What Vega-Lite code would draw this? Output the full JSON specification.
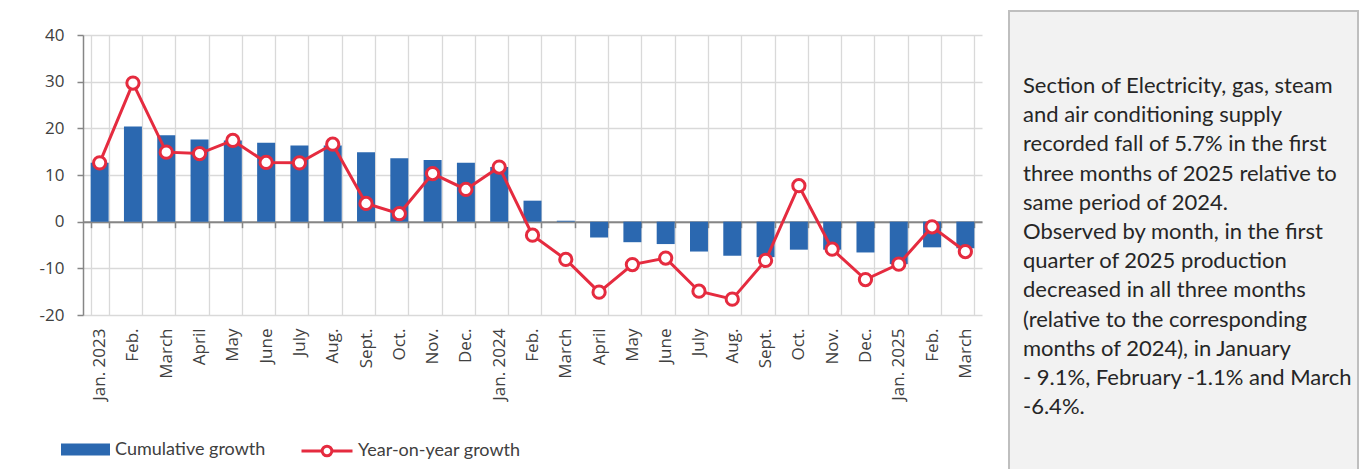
{
  "$schema": "https://vega.github.io/schema/vega-lite/v6.json",
  "padding": {"left": 39, "top": 10, "right": 0, "bottom": 0},
  "spacing": 26,
  "background": "white",
  "config": {"view": {"stroke": null}},
  "hconcat": [
    {
      "spacing": 3,
      "vconcat": [
        {
          "width": 899,
          "height": 12,
          "data": {"values": [{"t": ""}]},
          "mark": {"type": "text", "baseline": "middle"},
          "encoding": {"text": {"field": "t"}}
        },
        {
          "width": 899,
          "height": 280,
          "data": {"values": [
            {"month": "Jan. 2023", "cum": 12.6, "yoy": 12.6},
            {"month": "Feb. 2023", "cum": 20.4, "yoy": 29.7},
            {"month": "March 2023", "cum": 18.5, "yoy": 14.9},
            {"month": "April 2023", "cum": 17.6, "yoy": 14.6},
            {"month": "May 2023", "cum": 17.4, "yoy": 17.4},
            {"month": "June 2023", "cum": 16.9, "yoy": 12.7},
            {"month": "July 2023", "cum": 16.3, "yoy": 12.6},
            {"month": "Aug. 2023", "cum": 16.3, "yoy": 16.6},
            {"month": "Sept. 2023", "cum": 14.9, "yoy": 3.9},
            {"month": "Oct. 2023", "cum": 13.6, "yoy": 1.7},
            {"month": "Nov. 2023", "cum": 13.2, "yoy": 10.3},
            {"month": "Dec. 2023", "cum": 12.6, "yoy": 6.9},
            {"month": "Jan. 2024", "cum": 11.7, "yoy": 11.7},
            {"month": "Feb. 2024", "cum": 4.5, "yoy": -2.9},
            {"month": "March 2024", "cum": 0.2, "yoy": -8.1},
            {"month": "April 2024", "cum": -3.4, "yoy": -15.1},
            {"month": "May 2024", "cum": -4.4, "yoy": -9.2},
            {"month": "June 2024", "cum": -4.8, "yoy": -7.8},
            {"month": "July 2024", "cum": -6.4, "yoy": -14.9},
            {"month": "Aug. 2024", "cum": -7.3, "yoy": -16.6},
            {"month": "Sept. 2024", "cum": -7.6, "yoy": -8.3},
            {"month": "Oct. 2024", "cum": -6.0, "yoy": 7.7},
            {"month": "Nov. 2024", "cum": -6.0, "yoy": -5.9},
            {"month": "Dec. 2024", "cum": -6.6, "yoy": -12.4},
            {"month": "Jan. 2025", "cum": -9.1, "yoy": -9.1},
            {"month": "Feb. 2025", "cum": -5.5, "yoy": -1.1},
            {"month": "March 2025", "cum": -5.7, "yoy": -6.4}
          ]},
          "layer": [
            {
              "mark": {"type": "bar"},
              "encoding": {
                "x": {
                  "field": "month", "type": "ordinal", "sort": null,
                  "scale": {"paddingInner": 0.46, "paddingOuter": 0.23},
                  "axis": {
                    "title": null, "orient": "bottom", "labelAngle": -90,
                    "labelExpr": "indexof(datum.label, 'Jan.') == 0 ? datum.label : slice(datum.label, 0, -5)",
                    "labelFont": "Open Sans", "labelFontSize": 17, "labelColor": "#404040",
                    "labelPadding": 13, "ticks": false, "domain": false,
                    "grid": true, "tickBand": "extent", "gridColor": "#d9d9d9", "gridWidth": 1.3
                  }
                },
                "y": {
                  "field": "cum", "type": "quantitative",
                  "scale": {"domain": [-20, 40], "nice": false},
                  "axis": {
                    "title": null, "values": [-20, -10, 0, 10, 20, 30, 40],
                    "labelExpr": "'' + datum.value",
                    "labelFont": "Open Sans", "labelFontSize": 17, "labelColor": "#404040",
                    "labelPadding": 13, "tickSize": 6, "tickColor": "#868686", "tickWidth": 1.5,
                    "domainColor": "#868686", "domainWidth": 1.5,
                    "grid": true, "gridColor": "#d9d9d9", "gridWidth": 1.3
                  }
                },
                "fill": {
                  "datum": "Cumulative growth",
                  "scale": {"range": ["#2b68b0"]},
                  "legend": {
                    "title": null, "orient": "none", "legendX": -23, "legendY": 413,
                    "symbolType": "M-1,-0.24H1V0.24H-1Z", "symbolSize": 2401,
                    "labelFont": "Lato", "labelFontSize": 18, "labelColor": "#404040", "labelOffset": 4,
                    "labelLimit": 300
                  }
                }
              }
            },
            {
              "mark": {"type": "line", "strokeWidth": 3},
              "encoding": {
                "x": {
                  "field": "month", "type": "ordinal", "sort": null,
                  "axis": {
                    "title": null, "orient": "bottom", "offset": -93.33,
                    "labels": false, "ticks": true, "tickSize": 6, "tickColor": "#868686", "tickWidth": 1.5,
                    "tickBand": "extent", "domain": true, "domainColor": "#868686", "domainWidth": 2,
                    "grid": false
                  }
                },
                "y": {"field": "yoy", "type": "quantitative"},
                "stroke": {
                  "datum": "Year-on-year growth",
                  "scale": {"range": ["#e52b3f"]},
                  "legend": {
                    "title": null, "orient": "none", "legendX": 217, "legendY": 413,
                    "symbolType": "M-1,0H-0.19M0.19,0H1M0.19,0A0.19,0.19,0,1,1,-0.19,0A0.19,0.19,0,1,1,0.19,0",
                    "symbolSize": 2601, "symbolStrokeWidth": 3, "symbolFillColor": "white",
                    "labelFont": "Lato", "labelFontSize": 18, "labelColor": "#404040", "labelOffset": 4,
                    "labelLimit": 300
                  }
                }
              }
            },
            {
              "mark": {"type": "point", "shape": "circle", "filled": false, "fill": "white", "fillOpacity": 1, "strokeWidth": 3, "size": 150, "opacity": 1},
              "encoding": {
                "x": {"field": "month", "type": "ordinal", "sort": null, "axis": null},
                "y": {"field": "yoy", "type": "quantitative"},
                "stroke": {"datum": "Year-on-year growth"}
              }
            }
          ],
          "resolve": {"axis": {"x": "independent"}}
        }
      ]
    },
    {
      "width": 349,
      "height": 459,
      "view": {"fill": "#f2f2f2", "stroke": "#bfbfbf", "strokeWidth": 2},
      "data": {"values": [
        {"text": "Section of Electricity, gas, steam\nand air conditioning supply\nrecorded fall of 5.7% in the first\nthree months of 2025 relative to\nsame period of 2024.\nObserved by month, in the first\nquarter of 2025 production\ndecreased in all three months\n(relative to the corresponding\nmonths of 2024), in January\n- 9.1%, February -1.1% and March\n-6.4%."}
      ]},
      "mark": {"type": "text", "align": "left", "baseline": "alphabetic", "font": "Lato", "fontSize": 22, "lineHeight": 29.2, "lineBreak": "\n", "color": "#262626"},
      "encoding": {
        "text": {"field": "text"},
        "x": {"value": 14},
        "y": {"value": 82}
      }
    }
  ]
}
